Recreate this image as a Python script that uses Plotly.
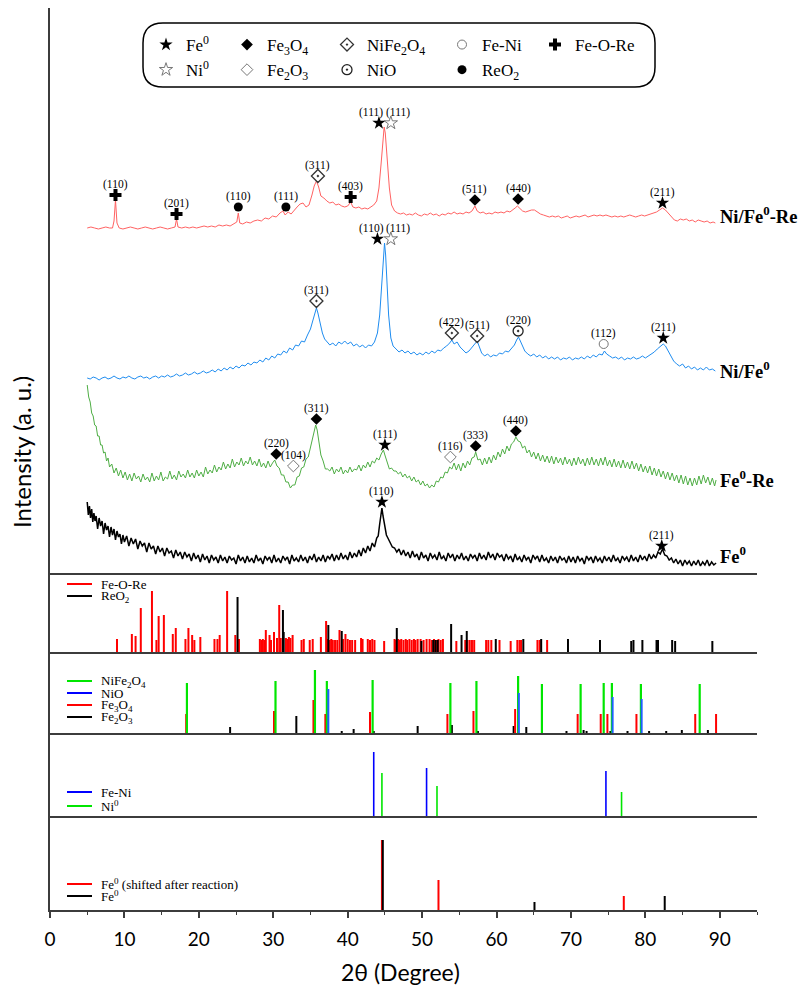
import plotly.graph_objects as go
from plotly.subplots import make_subplots

# ---------------- XRD scans (2theta, intensity a.u., offset-stacked) ----------------
RED_SCAN = [(5.0,345),(5.5,346),(6.0,345),(6.5,344),(7.0,345),(7.5,346),(8.0,345),(8.4,345),(8.6,352),(8.8,373),(9.0,350),(9.3,345),(9.8,344),(10.3,345),(10.8,346),(11.3,345),(11.8,344),(12.3,345),(12.8,346),(13.3,345),(13.8,344),(14.3,345),(14.8,346),(15.3,345),(15.8,344),(16.3,345),(16.8,346),(17.0,354),(17.2,346),(17.7,345),(18.2,346),(18.7,345),(19.2,346),(19.7,345),(20.2,346),(20.7,347),(21.2,346),(21.7,347),(22.2,346),(22.7,348),(23.2,347),(23.7,348),(24.2,347),(24.7,349),(25.1,351),(25.3,360),(25.5,350),(25.9,349),(26.4,351),(26.9,350),(27.4,352),(27.9,353),(28.4,352),(28.9,355),(29.4,354),(29.9,357),(30.4,356),(30.9,360),(31.3,362),(31.6,358),(32.0,361),(32.4,359),(32.8,363),(33.2,366),(33.6,369),(34.0,370),(34.4,366),(34.8,368),(35.2,378),(35.5,387),(35.8,392),(36.1,386),(36.4,377),(36.8,375),(37.2,372),(37.6,370),(38.0,371),(38.4,368),(38.8,369),(39.2,367),(39.6,366),(40.0,367),(40.4,371),(40.7,366),(41.1,365),(41.5,366),(41.9,364),(42.3,365),(42.7,364),(43.1,366),(43.5,368),(43.9,372),(44.2,385),(44.5,410),(44.75,438),(44.9,446),(45.05,440),(45.3,412),(45.6,385),(45.9,368),(46.3,362),(46.7,360),(47.1,359),(47.5,360),(47.9,358),(48.3,359),(48.7,358),(49.1,360),(49.5,358),(49.9,357),(50.3,359),(50.7,358),(51.1,360),(51.5,358),(51.9,359),(52.3,357),(52.7,359),(53.1,358),(53.5,360),(53.9,359),(54.3,361),(54.7,359),(55.1,360),(55.5,359),(55.9,361),(56.3,360),(56.7,362),(57.1,367),(57.4,362),(57.8,360),(58.2,361),(58.6,359),(59.0,360),(59.4,359),(59.8,361),(60.2,360),(60.6,361),(61.0,360),(61.4,362),(61.8,361),(62.2,363),(62.5,365),(62.8,367),(63.1,365),(63.5,362),(63.9,361),(64.3,362),(64.7,363),(65.1,363),(65.5,361),(65.9,359),(66.3,358),(66.7,357),(67.1,356),(67.5,357),(67.9,356),(68.3,357),(68.7,355),(69.1,356),(69.5,357),(69.9,355),(70.3,356),(70.7,357),(71.1,356),(71.5,357),(71.9,358),(72.3,356),(72.7,357),(73.1,358),(73.5,357),(73.9,358),(74.3,357),(74.7,358),(75.1,357),(75.5,356),(75.9,357),(76.3,356),(76.7,357),(77.1,356),(77.5,357),(77.9,358),(78.3,357),(78.7,356),(79.1,357),(79.5,358),(79.9,357),(80.3,358),(80.7,359),(81.1,360),(81.5,361),(81.9,363),(82.3,365),(82.7,363),(83.1,360),(83.5,356),(83.9,353),(84.3,352),(84.7,354),(85.1,353),(85.5,354),(85.9,352),(86.3,353),(86.7,351),(87.1,353),(87.5,352),(87.9,351),(88.3,352),(88.7,350),(89.1,351),(89.4,350)]

BLUE_SCAN = [(5.0,195),(5.4,194),(5.8,196),(6.2,195),(6.6,193),(7.0,195),(7.4,196),(7.8,194),(8.2,195),(8.6,197),(9.0,195),(9.4,194),(9.8,196),(10.2,195),(10.6,197),(11.0,195),(11.4,194),(11.8,196),(12.2,197),(12.6,195),(13.0,196),(13.4,194),(13.8,196),(14.2,197),(14.6,195),(15.0,197),(15.4,196),(15.8,198),(16.2,196),(16.6,197),(17.0,199),(17.4,197),(17.8,198),(18.2,200),(18.6,198),(19.0,199),(19.4,201),(19.8,199),(20.2,200),(20.6,202),(21.0,200),(21.4,201),(21.8,203),(22.2,201),(22.6,204),(23.0,202),(23.4,205),(23.8,203),(24.2,206),(24.6,204),(25.0,207),(25.4,205),(25.8,208),(26.2,207),(26.6,210),(27.0,208),(27.4,211),(27.8,210),(28.2,213),(28.6,211),(29.0,215),(29.4,213),(29.8,217),(30.2,215),(30.6,219),(31.0,218),(31.4,222),(31.8,220),(32.2,225),(32.6,223),(33.0,228),(33.4,227),(33.8,232),(34.2,231),(34.6,238),(35.0,244),(35.3,252),(35.6,261),(35.8,265),(36.0,260),(36.3,250),(36.6,240),(36.9,234),(37.2,231),(37.6,228),(38.0,230),(38.4,227),(38.8,231),(39.2,229),(39.6,232),(40.0,229),(40.4,231),(40.8,227),(41.2,229),(41.6,226),(42.0,228),(42.4,225),(42.8,228),(43.2,227),(43.6,231),(44.0,240),(44.3,258),(44.6,295),(44.8,322),(44.95,330),(45.1,318),(45.3,290),(45.5,258),(45.8,235),(46.1,227),(46.5,224),(46.9,221),(47.3,223),(47.7,220),(48.1,222),(48.5,219),(48.9,221),(49.3,218),(49.7,220),(50.1,218),(50.5,221),(50.9,219),(51.3,222),(51.7,220),(52.1,223),(52.5,222),(52.9,225),(53.3,227),(53.7,230),(54.0,233),(54.3,229),(54.7,231),(55.1,226),(55.5,223),(55.9,220),(56.3,222),(56.7,226),(57.0,229),(57.4,232),(57.7,226),(58.0,220),(58.4,217),(58.8,219),(59.2,216),(59.6,218),(60.0,217),(60.4,220),(60.8,219),(61.2,222),(61.6,221),(62.0,225),(62.4,228),(62.7,233),(62.95,236),(63.2,232),(63.5,226),(63.8,222),(64.2,219),(64.6,217),(65.0,219),(65.4,216),(65.8,218),(66.2,215),(66.6,217),(67.0,214),(67.4,216),(67.8,214),(68.2,216),(68.6,213),(69.0,215),(69.4,214),(69.8,216),(70.2,213),(70.6,215),(71.0,214),(71.4,216),(71.8,214),(72.2,217),(72.6,215),(73.0,218),(73.4,216),(73.8,219),(74.2,218),(74.5,222),(74.8,219),(75.2,217),(75.6,215),(76.0,216),(76.4,214),(76.8,216),(77.2,213),(77.6,215),(78.0,214),(78.4,216),(78.8,214),(79.2,215),(79.6,217),(80.0,215),(80.4,217),(80.8,219),(81.2,221),(81.6,224),(82.0,227),(82.4,229),(82.7,227),(83.0,223),(83.4,217),(83.8,212),(84.2,209),(84.6,207),(85.0,209),(85.4,205),(85.8,207),(86.2,204),(86.6,206),(87.0,203),(87.4,205),(87.8,203),(88.2,206),(88.6,203),(89.0,204),(89.4,202)]

GREEN_SCAN = [(5.0,188),(5.2,176),(5.4,171),(5.6,160),(5.8,157),(6.0,148),(6.2,147),(6.4,137),(6.6,137),(6.8,128),(7.0,128),(7.2,120),(7.4,121),(7.6,112),(7.8,115),(8.0,106),(8.3,109),(8.6,100),(8.9,105),(9.2,97),(9.5,103),(9.8,95),(10.1,101),(10.4,93),(10.7,99),(11.0,92),(11.3,100),(11.6,94),(11.9,97),(12.2,91),(12.5,99),(12.8,93),(13.1,96),(13.4,91),(13.7,100),(14.0,92),(14.3,97),(14.6,93),(14.9,101),(15.2,92),(15.5,96),(15.8,94),(16.1,102),(16.4,94),(16.7,98),(17.0,93),(17.3,102),(17.6,96),(17.9,99),(18.2,95),(18.5,103),(18.8,96),(19.1,100),(19.4,95),(19.7,103),(20.0,97),(20.3,101),(20.6,96),(20.9,106),(21.2,99),(21.5,103),(21.8,100),(22.1,108),(22.4,101),(22.7,106),(23.0,103),(23.3,111),(23.6,104),(23.9,109),(24.2,105),(24.5,114),(24.8,106),(25.1,111),(25.4,108),(25.7,115),(26.0,107),(26.3,112),(26.6,109),(26.9,116),(27.2,108),(27.5,112),(27.8,107),(28.1,114),(28.4,106),(28.7,110),(29.0,105),(29.3,112),(29.6,106),(29.9,110),(30.2,113),(30.5,107),(30.8,105),(31.1,98),(31.4,98),(31.7,91),(32.0,91),(32.3,85),(32.6,88),(32.9,88),(33.2,96),(33.5,97),(33.8,105),(34.1,106),(34.4,114),(34.7,116),(35.0,126),(35.3,134),(35.5,144),(35.7,148),(35.9,143),(36.1,134),(36.4,118),(36.7,112),(37.0,104),(37.3,104),(37.6,102),(37.9,106),(38.2,99),(38.5,104),(38.8,101),(39.1,106),(39.4,99),(39.7,103),(40.0,100),(40.3,106),(40.6,101),(40.9,104),(41.2,103),(41.5,108),(41.8,102),(42.1,108),(42.4,105),(42.7,111),(43.0,106),(43.3,112),(43.6,110),(43.9,115),(44.2,113),(44.5,119),(44.8,123),(45.0,118),(45.3,111),(45.6,104),(45.9,105),(46.2,102),(46.5,102),(46.8,99),(47.1,101),(47.4,96),(47.7,99),(48.0,95),(48.3,97),(48.6,92),(48.9,96),(49.2,91),(49.5,93),(49.8,88),(50.1,92),(50.4,87),(50.7,89),(51.0,85),(51.3,88),(51.6,86),(51.9,92),(52.2,91),(52.5,96),(52.8,95),(53.1,101),(53.4,100),(53.7,106),(54.0,104),(54.3,110),(54.6,103),(54.9,109),(55.2,102),(55.5,110),(55.8,105),(56.1,112),(56.4,108),(56.7,115),(57.0,116),(57.2,121),(57.5,113),(57.8,114),(58.1,108),(58.4,115),(58.7,109),(59.0,116),(59.3,110),(59.6,118),(59.9,113),(60.2,121),(60.5,116),(60.8,124),(61.1,119),(61.4,127),(61.7,122),(62.0,129),(62.3,131),(62.6,136),(62.9,132),(63.2,131),(63.5,125),(63.8,127),(64.1,120),(64.4,123),(64.7,116),(65.0,121),(65.3,114),(65.6,120),(65.9,112),(66.2,118),(66.5,111),(66.8,117),(67.1,110),(67.4,117),(67.7,109),(68.0,116),(68.3,110),(68.6,115),(68.9,108),(69.2,116),(69.5,109),(69.8,114),(70.1,107),(70.4,115),(70.7,108),(71.0,116),(71.3,109),(71.6,114),(71.9,107),(72.2,115),(72.5,108),(72.8,116),(73.1,108),(73.4,114),(73.7,107),(74.0,115),(74.3,108),(74.6,116),(74.9,107),(75.2,113),(75.5,106),(75.8,114),(76.1,106),(76.4,112),(76.7,105),(77.0,113),(77.3,105),(77.6,111),(77.9,104),(78.2,112),(78.5,104),(78.8,110),(79.1,102),(79.4,109),(79.7,101),(80.0,107),(80.3,100),(80.6,107),(80.9,98),(81.2,105),(81.5,97),(81.8,104),(82.1,96),(82.4,102),(82.7,94),(83.0,101),(83.3,93),(83.6,100),(83.9,92),(84.2,98),(84.5,90),(84.8,98),(85.1,89),(85.4,97),(85.7,88),(86.0,95),(86.3,87),(86.6,95),(86.9,88),(87.2,97),(87.5,89),(87.8,98),(88.1,90),(88.4,96),(88.7,88),(89.0,95),(89.3,87),(89.5,93)]

BLACK_SCAN = [(5.0,71),(5.15,58),(5.3,67),(5.45,55),(5.6,64),(5.75,51),(5.9,60),(6.05,52),(6.2,57),(6.4,44),(6.6,55),(6.8,47),(7.0,52),(7.2,39),(7.4,50),(7.6,43),(7.8,47),(8.0,36),(8.2,46),(8.4,38),(8.6,44),(8.8,33),(9.0,42),(9.2,36),(9.4,39),(9.6,29),(9.8,38),(10.0,31),(10.3,37),(10.6,27),(10.9,35),(11.2,29),(11.5,34),(11.8,24),(12.1,32),(12.4,27),(12.7,30),(13.0,21),(13.3,30),(13.6,24),(13.9,27),(14.2,19),(14.5,27),(14.8,21),(15.1,25),(15.4,17),(15.7,25),(16.0,20),(16.3,22),(16.6,15),(16.9,23),(17.2,17),(17.5,21),(17.8,14),(18.1,21),(18.4,16),(18.7,19),(19.0,12),(19.3,20),(19.6,14),(19.9,18),(20.2,11),(20.5,19),(20.8,13),(21.1,17),(21.4,10),(21.7,18),(22.0,13),(22.3,16),(22.6,10),(22.9,18),(23.2,12),(23.5,16),(23.8,10),(24.1,17),(24.4,13),(24.7,15),(25.0,9),(25.3,18),(25.6,12),(25.9,16),(26.2,10),(26.5,17),(26.8,11),(27.1,15),(27.4,10),(27.7,18),(28.0,12),(28.3,15),(28.6,9),(28.9,17),(29.2,13),(29.5,16),(29.8,10),(30.1,18),(30.4,11),(30.7,15),(31.0,10),(31.3,17),(31.6,13),(31.9,16),(32.2,9),(32.5,18),(32.8,12),(33.1,15),(33.4,11),(33.7,18),(34.0,12),(34.3,16),(34.6,10),(34.9,17),(35.2,13),(35.5,19),(35.8,11),(36.1,16),(36.4,12),(36.7,18),(37.0,11),(37.3,17),(37.6,14),(37.9,19),(38.2,12),(38.5,18),(38.8,13),(39.1,20),(39.4,14),(39.7,18),(40.0,13),(40.3,21),(40.6,15),(40.9,20),(41.2,16),(41.5,23),(41.8,17),(42.1,25),(42.4,20),(42.7,27),(43.0,22),(43.3,30),(43.6,26),(43.9,35),(44.1,37),(44.3,49),(44.45,55),(44.6,65),(44.75,57),(44.9,49),(45.05,44),(45.2,38),(45.4,35),(45.6,31),(45.8,29),(46.0,26),(46.3,25),(46.6,21),(46.9,24),(47.2,18),(47.5,23),(47.8,17),(48.1,21),(48.4,15),(48.7,22),(49.0,16),(49.3,19),(49.6,13),(49.9,21),(50.2,15),(50.5,18),(50.8,12),(51.1,20),(51.4,15),(51.7,18),(52.0,13),(52.3,21),(52.6,14),(52.9,17),(53.2,12),(53.5,20),(53.8,15),(54.1,19),(54.4,12),(54.7,18),(55.0,14),(55.3,20),(55.6,13),(55.9,17),(56.2,12),(56.5,19),(56.8,15),(57.1,18),(57.4,12),(57.7,20),(58.0,14),(58.3,18),(58.6,13),(58.9,21),(59.2,15),(59.5,19),(59.8,13),(60.1,20),(60.4,16),(60.7,18),(61.0,12),(61.3,19),(61.6,14),(61.9,17),(62.2,11),(62.5,19),(62.8,13),(63.1,16),(63.4,11),(63.7,18),(64.0,13),(64.3,16),(64.6,10),(64.9,18),(65.2,14),(65.5,17),(65.8,11),(66.1,18),(66.4,12),(66.7,15),(67.0,10),(67.3,17),(67.6,12),(67.9,16),(68.2,10),(68.5,17),(68.8,13),(69.1,15),(69.4,10),(69.7,17),(70.0,11),(70.3,16),(70.6,10),(70.9,17),(71.2,12),(71.5,15),(71.8,9),(72.1,17),(72.4,13),(72.7,16),(73.0,10),(73.3,17),(73.6,12),(73.9,15),(74.2,10),(74.5,17),(74.8,12),(75.1,16),(75.4,11),(75.7,18),(76.0,12),(76.3,15),(76.6,10),(76.9,17),(77.2,13),(77.5,16),(77.8,11),(78.1,18),(78.4,12),(78.7,16),(79.0,11),(79.3,18),(79.6,13),(79.9,17),(80.2,12),(80.5,19),(80.8,14),(81.1,18),(81.4,15),(81.7,21),(82.0,19),(82.3,24),(82.6,18),(82.9,17),(83.2,13),(83.5,15),(83.8,10),(84.1,14),(84.4,9),(84.7,13),(85.0,7),(85.3,13),(85.6,9),(85.9,12),(86.2,7),(86.5,12),(86.8,8),(87.1,13),(87.4,7),(87.7,11),(88.0,8),(88.3,13),(88.6,7),(88.9,11),(89.2,8),(89.5,10)]

# peak assignments: (phase, 2theta, marker height, hkl label, label x-shift px)
RED_PEAKS = [("Fe-O-Re",8.8,378,"(110)",0),("Fe-O-Re",17.0,359,"(201)",0),("ReO2",25.3,366,"(110)",0),
             ("ReO2",31.7,366,"(111)",0),("NiFe2O4",36.0,397,"(311)",0),("Fe-O-Re",40.4,376,"(403)",0),
             ("Fe0",44.2,450,"(111)",-8),("Ni0",45.8,450,"(111)",7),("Fe3O4",57.1,373,"(511)",0),
             ("Fe3O4",62.9,374,"(440)",0),("Fe0",82.3,370,"(211)",0)]
BLUE_PEAKS = [("NiFe2O4",35.8,272,"(311)",0),("Fe0",44.0,334,"(110)",-6),("Ni0",45.8,334,"(111)",7),
              ("NiFe2O4",54.0,240,"(422)",0),("NiFe2O4",57.4,237,"(511)",0),("NiO",62.9,242,"(220)",0),
              ("Fe-Ni",74.4,229,"(112)",0),("Fe0",82.4,235,"(211)",0)]
GREEN_PEAKS = [("Fe3O4",30.4,119,"(220)",0),("Fe2O3",32.7,107,"(104)",0),("Fe3O4",35.8,154,"(311)",0),
               ("Fe0",45.0,128,"(111)",0),("Fe2O3",53.8,116,"(116)",0),("Fe3O4",57.2,127,"(333)",0),
               ("Fe3O4",62.6,142,"(440)",0)]
BLACK_PEAKS = [("Fe0",44.6,71,"(110)",0),("Fe0",82.2,27,"(211)",0)]

SAMPLE_NAMES = ["Ni/Fe<sup>0</sup>-Re", "Ni/Fe<sup>0</sup>", "Fe<sup>0</sup>-Re", "Fe<sup>0</sup>"]
SAMPLE_NAME_Y = [358, 203, 94, 18]

# ---------------- reference patterns (position, relative intensity) ----------------
FEORE_REF = [(9.0,13),(11.0,18),(11.5,16),(12.2,44),(13.7,61),(14.3,12),(14.6,36),(15.3,37),(16.5,18),(16.9,24),
             (18.2,13),(18.6,24),(19.1,17),(19.4,12),(20.2,15),(22.1,13),(22.5,13),(22.8,17),(23.8,61),(24.9,17),
             (25.4,13),(28.2,13),(28.4,12),(28.6,13),(28.8,12),(29.0,22),(29.5,17),(29.7,12),(30.1,20),(30.5,14),
             (30.8,47),(31.0,14),(31.7,14),(31.9,13),(32.1,15),(32.3,14),(32.6,17),(33.8,12),(34.1,13),(34.9,12),
             (35.3,13),(36.4,15),(37.1,31),(37.3,13),(37.6,12),(37.8,13),(38.0,12),(38.3,12),(38.6,12),(38.9,22),
             (39.4,13),(39.7,18),(40.0,13),(40.3,12),(40.6,12),(41.0,12),(41.8,14),(42.0,13),(42.7,13),(43.0,12),
             (43.3,13),(43.6,12),(44.9,11),(46.3,13),(46.5,12),(46.8,13),(47.0,12),(47.2,13),(47.5,12),(47.8,13),
             (48.0,12),(48.3,13),(48.6,12),(48.9,13),(49.1,12),(49.4,13),(49.8,13),(50.2,12),(50.6,13),(51.0,13),
             (51.3,12),(51.6,13),(51.9,12),(52.2,13),(52.5,12),(52.8,13),(54.6,11),(55.8,12),(56.1,12),(56.4,12),
             (56.7,12),(57.0,12),(58.6,12),(58.9,12),(59.3,12),(60.4,12),(61.9,11),(62.8,12),(63.1,12),(63.3,12),
             (65.5,12),(65.8,12),(66.8,12)]
REO2_REF = [(25.2,55),(31.3,42),(31.4,20),(37.4,27),(39.2,21),(46.6,24),(49.9,11),(51.5,12),(51.8,12),(52.1,12),
            (53.9,28),(55.3,17),(56.0,21),(59.9,13),(63.6,13),(66.0,13),(69.6,13),(73.9,12),(78.1,11),(78.4,12),
            (79.6,12),(81.5,12),(81.7,12),(83.6,12),(84.0,11),(89.0,11)]
NIFE2O4_REF = [(18.4,50),(30.3,52),(35.6,63),(37.2,52),(43.35,53),(53.8,50),(57.3,52),(62.9,57),(66.1,49),
               (71.3,49),(74.4,50),(75.5,50),(79.4,49),(87.3,49)]
NIO_REF = [(37.4,44),(63.0,40),(75.6,36),(79.5,34)]
FE3O4_REF = [(18.3,19),(30.1,22),(35.4,33),(37.0,19),(43.0,21),(53.4,19),(56.9,22),(62.5,24),(70.9,19),
             (74.0,19),(74.9,19),(78.8,19),(86.7,19),(89.5,19)]
FE2O3_REF = [(24.2,6),(33.1,17),(39.2,2),(40.8,4),(43.5,2),(49.4,7),(54.0,8),(57.5,2),(62.3,7),(64.0,6),
             (69.4,2),(71.7,3),(72.1,2),(75.3,2),(77.6,2),(80.5,2),(82.8,2),(84.9,3),(88.4,3)]
FENI_REF = [(43.5,64),(50.6,48),(74.7,45)]
NI_REF = [(44.6,43),(52.0,30),(76.8,24)]
FE_SHIFT_REF = [(44.6,70),(52.2,30),(77.1,14)]
FE_REF = [(44.72,70),(65.1,8),(82.6,14)]

X_TICKS = [0, 10, 20, 30, 40, 50, 60, 70, 80, 90]

# ---------------- geometry (page pixels; page body has an 8px margin) ----------------
OFF = 8
W, H = 801, 983
PX_L, PX_R, PX_T, PX_B = 50, 757, 8, 910          # plot area on the page
ML, MR, MT, MB = PX_L - OFF, W - (PX_R - OFF), PX_T - OFF, H - (PX_B - OFF)
PW, PH = PX_R - PX_L, PX_B - PX_T
PANEL_PX = [565, 79, 81, 83, 94]
TOPS = [8, 573, 652, 733, 816]

def px_x(px):
    return (px - PX_L) / PW

def px_y(py):
    return (PX_B - py) / PH

fig = make_subplots(rows=5, cols=1, shared_xaxes=True, vertical_spacing=0, row_heights=PANEL_PX)

def unzip(pairs):
    return [p[0] for p in pairs], [p[1] for p in pairs]

SERIF = "Liberation Serif"

for scan, col, w in [(RED_SCAN, "#ff6262", 1.0), (BLUE_SCAN, "#1e8cf0", 1.0),
                     (GREEN_SCAN, "#4fae45", 1.0), (BLACK_SCAN, "#000000", 1.5)]:
    x, y = unzip(scan)
    fig.add_trace(go.Scatter(x=x, y=y, mode="lines", line=dict(color=col, width=w),
                             showlegend=False, hoverinfo="skip"), row=1, col=1)

PHASES = [
    ("Fe0", "Fe<sup>0</sup>", dict(symbol="star", size=10, color="black", line=dict(width=0)), "legend"),
    ("Ni0", "Ni<sup>0</sup>", dict(symbol="star-open", size=10, color="#777777", line=dict(width=1, color="#777777")), "legend"),
    ("Fe3O4", "Fe<sub>3</sub>O<sub>4</sub>", dict(symbol="diamond", size=9, color="black", line=dict(width=0)), "legend2"),
    ("Fe2O3", "Fe<sub>2</sub>O<sub>3</sub>", dict(symbol="diamond-open", size=9, color="#777777", line=dict(width=1, color="#777777")), "legend2"),
    ("NiFe2O4", "NiFe<sub>2</sub>O<sub>4</sub>", dict(symbol="diamond-open-dot", size=10, color="#333333", line=dict(width=1.3, color="#333333")), "legend3"),
    ("NiO", "NiO", dict(symbol="circle-open-dot", size=10, color="#222222", line=dict(width=1.3, color="#222222")), "legend3"),
    ("Fe-Ni", "Fe-Ni", dict(symbol="circle-open", size=9, color="#777777", line=dict(width=1, color="#777777")), "legend4"),
    ("ReO2", "ReO<sub>2</sub>", dict(symbol="circle", size=9, color="black", line=dict(width=0)), "legend4"),
    ("Fe-O-Re", "Fe-O-Re", dict(symbol="cross", size=10, color="black", line=dict(width=0)), "legend5"),
]
ALL_PEAKS = RED_PEAKS + BLUE_PEAKS + GREEN_PEAKS + BLACK_PEAKS
for key, name, mk, lg in PHASES:
    pts = [p for p in ALL_PEAKS if p[0] == key]
    fig.add_trace(go.Scatter(x=[p[1] for p in pts], y=[p[2] for p in pts], mode="markers",
                             marker=mk, name=name, legend=lg, hoverinfo="skip"), row=1, col=1)

for ph, t, h, lab, dx in ALL_PEAKS:
    fig.add_annotation(x=t, y=h, xref="x", yref="y", text=lab, showarrow=False, yshift=11, xshift=dx,
                       font=dict(family=SERIF, size=11.5, color="black"))

for name, yv in zip(SAMPLE_NAMES, SAMPLE_NAME_Y):
    fig.add_annotation(x=89.7, y=yv, xref="x", yref="y", text="<b>" + name + "</b>", showarrow=False,
                       xanchor="left", yanchor="middle", font=dict(family=SERIF, size=18.5, color="black"))

def add_sticks(ref, color, width, row):
    xs, ys = [], []
    for p, h in ref:
        xs += [p, p, None]
        ys += [0, h, None]
    fig.add_trace(go.Scatter(x=xs, y=ys, mode="lines", line=dict(color=color, width=width),
                             showlegend=False, hoverinfo="skip"), row=row, col=1)

add_sticks(FEORE_REF, "#ff0000", 2.0, 2)
add_sticks(REO2_REF, "#000000", 2.0, 2)
add_sticks(FE2O3_REF, "#000000", 2.0, 3)
add_sticks(FE3O4_REF, "#ff0000", 2.0, 3)
add_sticks(NIFE2O4_REF, "#00e600", 2.2, 3)
add_sticks(NIO_REF, "#1f5fff", 2.0, 3)
add_sticks(FENI_REF, "#0000ff", 1.6, 4)
add_sticks(NI_REF, "#00e600", 1.6, 4)
add_sticks(FE_SHIFT_REF, "#ff0000", 2.0, 5)
add_sticks(FE_REF, "#000000", 2.0, 5)

# panel legends (line sample + label), page-pixel rows
PANEL_LEGENDS = {
    2: [("Fe-O-Re", "#ff0000", 584), ("ReO<sub>2</sub>", "#000000", 596)],
    3: [("NiFe<sub>2</sub>O<sub>4</sub>", "#00e600", 681), ("NiO", "#0000ff", 693),
        ("Fe<sub>3</sub>O<sub>4</sub>", "#ff0000", 705), ("Fe<sub>2</sub>O<sub>3</sub>", "#000000", 717)],
    4: [("Fe-Ni", "#0000ff", 792), ("Ni<sup>0</sup>", "#00e600", 806)],
    5: [("Fe<sup>0</sup> (shifted after reaction)", "#ff0000", 884), ("Fe<sup>0</sup>", "#000000", 896)],
}
for row, items in PANEL_LEGENDS.items():
    top = TOPS[row - 1]
    hgt = PANEL_PX[row - 1]
    yref = "y%d domain" % row
    for text, col, ypx in items:
        fy = (top + hgt - ypx) / hgt
        fig.add_shape(type="line", xref="paper", yref=yref, x0=px_x(67), x1=px_x(92),
                      y0=fy, y1=fy, line=dict(color=col, width=2))
        fig.add_annotation(x=px_x(99), y=fy, xref="paper", yref=yref, text=text, showarrow=False,
                           xanchor="left", yanchor="middle", font=dict(family=SERIF, size=13, color="black"))

# rounded legend box
bx0, bx1, by0, by1, r = 143, 655, 23, 87, 20
X0, X1 = px_x(bx0), px_x(bx1)
YT, YB = px_y(by0), px_y(by1)
rx, ry = r / PW, r / PH
path = (f"M {X0+rx},{YT} L {X1-rx},{YT} Q {X1},{YT} {X1},{YT-ry} L {X1},{YB+ry} Q {X1},{YB} {X1-rx},{YB} "
        f"L {X0+rx},{YB} Q {X0},{YB} {X0},{YB+ry} L {X0},{YT-ry} Q {X0},{YT} {X0+rx},{YT} Z")
fig.add_shape(type="path", path=path, xref="paper", yref="paper", line=dict(color="black", width=1.5),
              layer="above")

leg_common = dict(font=dict(family=SERIF, size=17, color="black"), bgcolor="rgba(0,0,0,0)",
                  orientation="v", xanchor="left", yanchor="top", y=px_y(27),
                  itemclick=False, itemdoubleclick=False, tracegroupgap=0)
LEG_X = [146, 227, 327, 442, 535]
fig.update_layout(
    legend=dict(x=px_x(LEG_X[0]), **leg_common),
    legend2=dict(x=px_x(LEG_X[1]), **leg_common),
    legend3=dict(x=px_x(LEG_X[2]), **leg_common),
    legend4=dict(x=px_x(LEG_X[3]), **leg_common),
    legend5=dict(x=px_x(LEG_X[4]), **leg_common),
)

AX = "#3c3c3c"
fig.update_xaxes(range=[0, 95], showline=True, linecolor=AX, linewidth=1.5, showgrid=False,
                 zeroline=False, ticks="")
fig.update_xaxes(row=5, col=1, ticks="outside", tickmode="array", tickvals=X_TICKS, ticklen=6,
                 tickwidth=1.5, tickcolor=AX, showticklabels=True,
                 minor=dict(ticks="outside", dtick=5, tick0=0, ticklen=3.5, tickwidth=1.2, tickcolor=AX),
                 tickfont=dict(family="Lato", size=19, color="black"), ticklabelstandoff=5)
fig.update_yaxes(showline=True, linecolor=AX, linewidth=1.5, showgrid=False, zeroline=False,
                 ticks="", showticklabels=False)
fig.update_yaxes(range=[0, PANEL_PX[0]], row=1, col=1)
for i in range(1, 5):
    fig.update_yaxes(range=[0, PANEL_PX[i]], row=i + 1, col=1)

fig.add_annotation(x=px_x(400), y=px_y(972), xref="paper", yref="paper", text="2θ (Degree)",
                   showarrow=False, xanchor="center", yanchor="middle",
                   font=dict(family="Lato", size=23, color="black"))
fig.add_annotation(x=px_x(22), y=px_y(452), xref="paper", yref="paper",
                   text="Intensity (a. u.)", textangle=-90, showarrow=False, xanchor="center",
                   yanchor="middle", font=dict(family="Lato", size=24, color="black"))

fig.update_layout(width=W, height=H, margin=dict(l=ML, r=MR, t=MT, b=MB),
                  paper_bgcolor="white", plot_bgcolor="white", showlegend=True)

fig.write_html("out.html")
